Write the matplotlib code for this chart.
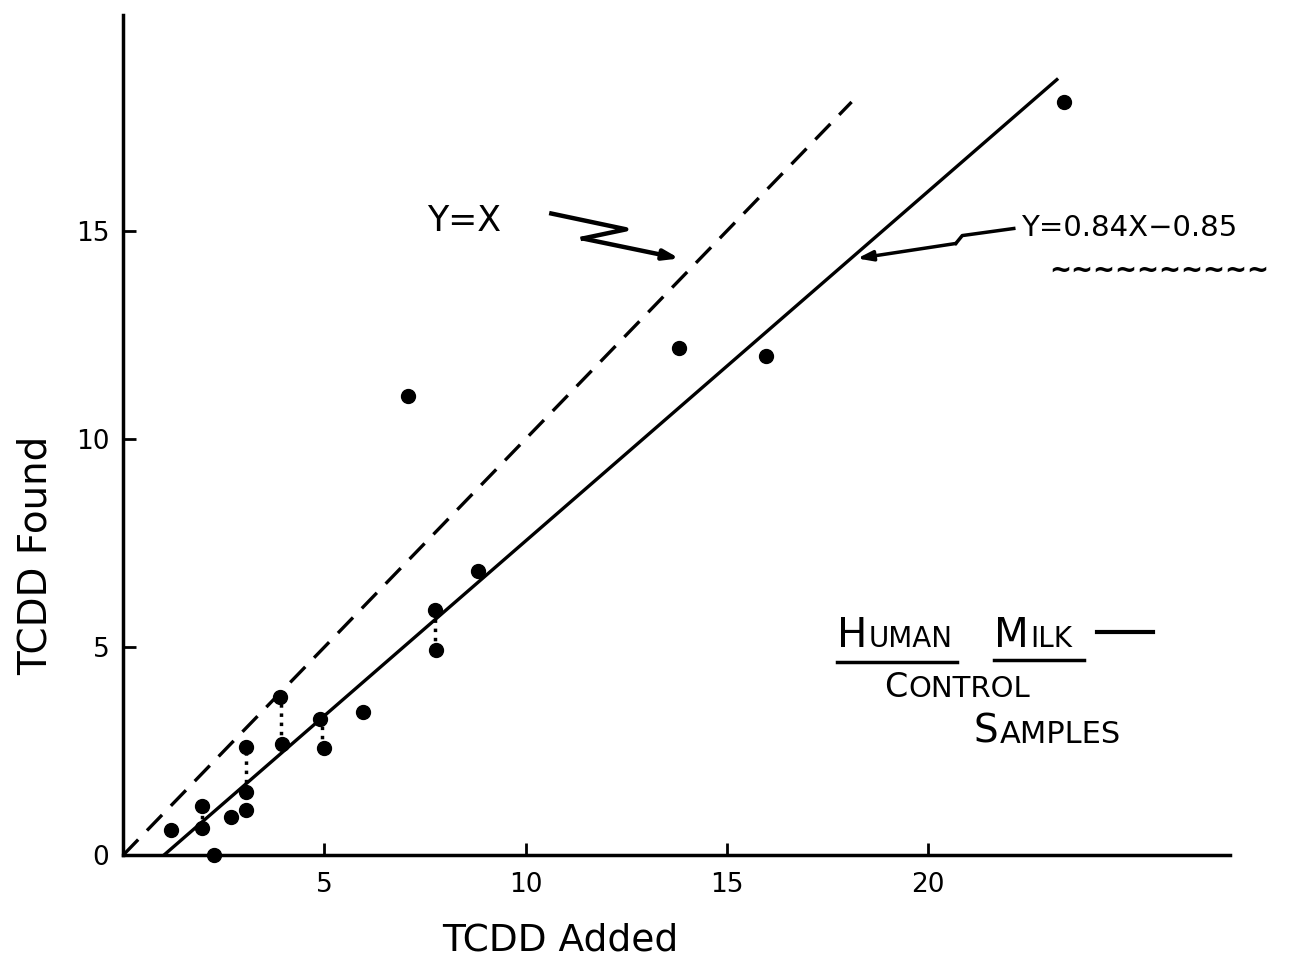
import numpy as np
import matplotlib.pyplot as plt

# TCDD recovery in human milk control samples
added = [1.2, 1.95, 1.95, 2.27, 2.68, 3.05, 3.05, 3.05, 3.9, 3.95,
         4.9, 5.0, 5.95, 7.07, 7.75, 7.78, 8.83, 13.82, 15.97, 23.37]
found = [0.6, 1.18, 0.66, 0.0, 0.92, 2.59, 1.52, 1.08, 3.8, 2.67,
         3.27, 2.57, 3.45, 11.04, 5.89, 4.94, 6.84, 12.2, 12.0, 18.1]

# duplicate determinations joined by dotted bars
pair_x = [1.95, 3.05, 3.92, 4.95, 7.76]
pair_lo = [0.66, 1.52, 2.67, 2.57, 4.94]
pair_hi = [1.18, 2.59, 3.8, 3.27, 5.89]

slope, intercept = 0.84, -0.85
fit_range = [1.0, 23.2]
ident_range = [0.0, 18.1]

xticks = [5, 10, 15, 20]
yticks = [0, 5, 10, 15]

fig = plt.figure(figsize=(12.96, 9.74), dpi=100)
ax = fig.add_axes([0.095, 0.122, 0.854, 0.863])

# y = x reference line
xi = np.array(ident_range)
ax.plot(xi, xi, color='black', lw=2.4, dashes=(6.5, 3.8))

# fitted line
xf = np.array(fit_range)
ax.plot(xf, slope * xf + intercept, color='black', lw=2.4)

# points and duplicate bars
ax.vlines(pair_x, pair_lo, pair_hi, colors='black', linestyles=':', lw=2.5)
ax.plot(added, found, 'o', ms=10, color='black', clip_on=False, zorder=5)

ax.set_xlim(0, 27.5)
ax.set_ylim(0, 20.2)
ax.set_xticks(xticks)
ax.set_yticks(yticks)
ax.tick_params(direction='in', length=9, width=2, labelsize=19, pad=12)
ax.tick_params(axis='y', pad=10)
for s in ['top', 'right']:
    ax.spines[s].set_visible(False)
for s in ['left', 'bottom']:
    ax.spines[s].set_linewidth(2.5)

ax.set_xlabel('TCDD Added', fontsize=27)
ax.set_ylabel('TCDD Found', fontsize=28)
ax.xaxis.set_label_coords(0.395, -0.08)
ax.yaxis.set_label_coords(-0.062, 0.357)

# "Y=X" note with zigzag arrow
ax.text(7.55, 15.0, 'Y=X', fontsize=25, va='baseline', ha='left')
ax.plot([10.64, 12.5, 11.42], [15.42, 15.04, 14.82], color='black', lw=3.2)
ax.annotate('', xy=(13.82, 14.34), xytext=(11.42, 14.82),
            arrowprops=dict(arrowstyle='-|>,head_length=0.9,head_width=0.3',
                            color='black', lw=3.2, shrinkA=0, shrinkB=0))

# fit equation note
ax.text(22.3, 15.06, 'Y=0.84X\u22120.85', fontsize=21, va='center', ha='left')
ax.text(23.0, 14.05, '~' * 10, fontsize=19, fontweight='bold', va='center',
        ha='left', clip_on=False)
ax.plot([22.13, 20.85, 20.69], [15.06, 14.89, 14.7], color='black', lw=2.5)
ax.annotate('', xy=(18.24, 14.34), xytext=(20.69, 14.7),
            arrowprops=dict(arrowstyle='-|>,head_length=0.9,head_width=0.3',
                            color='black', lw=2.5, shrinkA=0, shrinkB=0))


def caps(x, y, word, big, small):
    # hand-lettered small caps: large first letter, smaller rest
    first = ax.text(x, y, word[0], fontsize=big, va='baseline', ha='left')
    ax.annotate(word[1:], xy=(1, 0), xycoords=first,
                xytext=(1, 0.24 * (big - small)), textcoords='offset points',
                fontsize=small, va='bottom', ha='left')


caps(17.74, 5.0, 'HUMAN', 29, 20)
caps(21.64, 5.0, 'MILK', 29, 20)
caps(18.9, 3.81, 'CONTROL', 24, 21)
caps(21.14, 2.7, 'SAMPLES', 28, 22)
ax.plot([17.74, 20.72], [4.65, 4.65], color='black', lw=2.5)
ax.plot([21.64, 23.87], [4.7, 4.7], color='black', lw=2.5)
ax.plot([24.2, 25.6], [5.37, 5.37], color='black', lw=3)

fig.savefig('out.png', dpi=100)
